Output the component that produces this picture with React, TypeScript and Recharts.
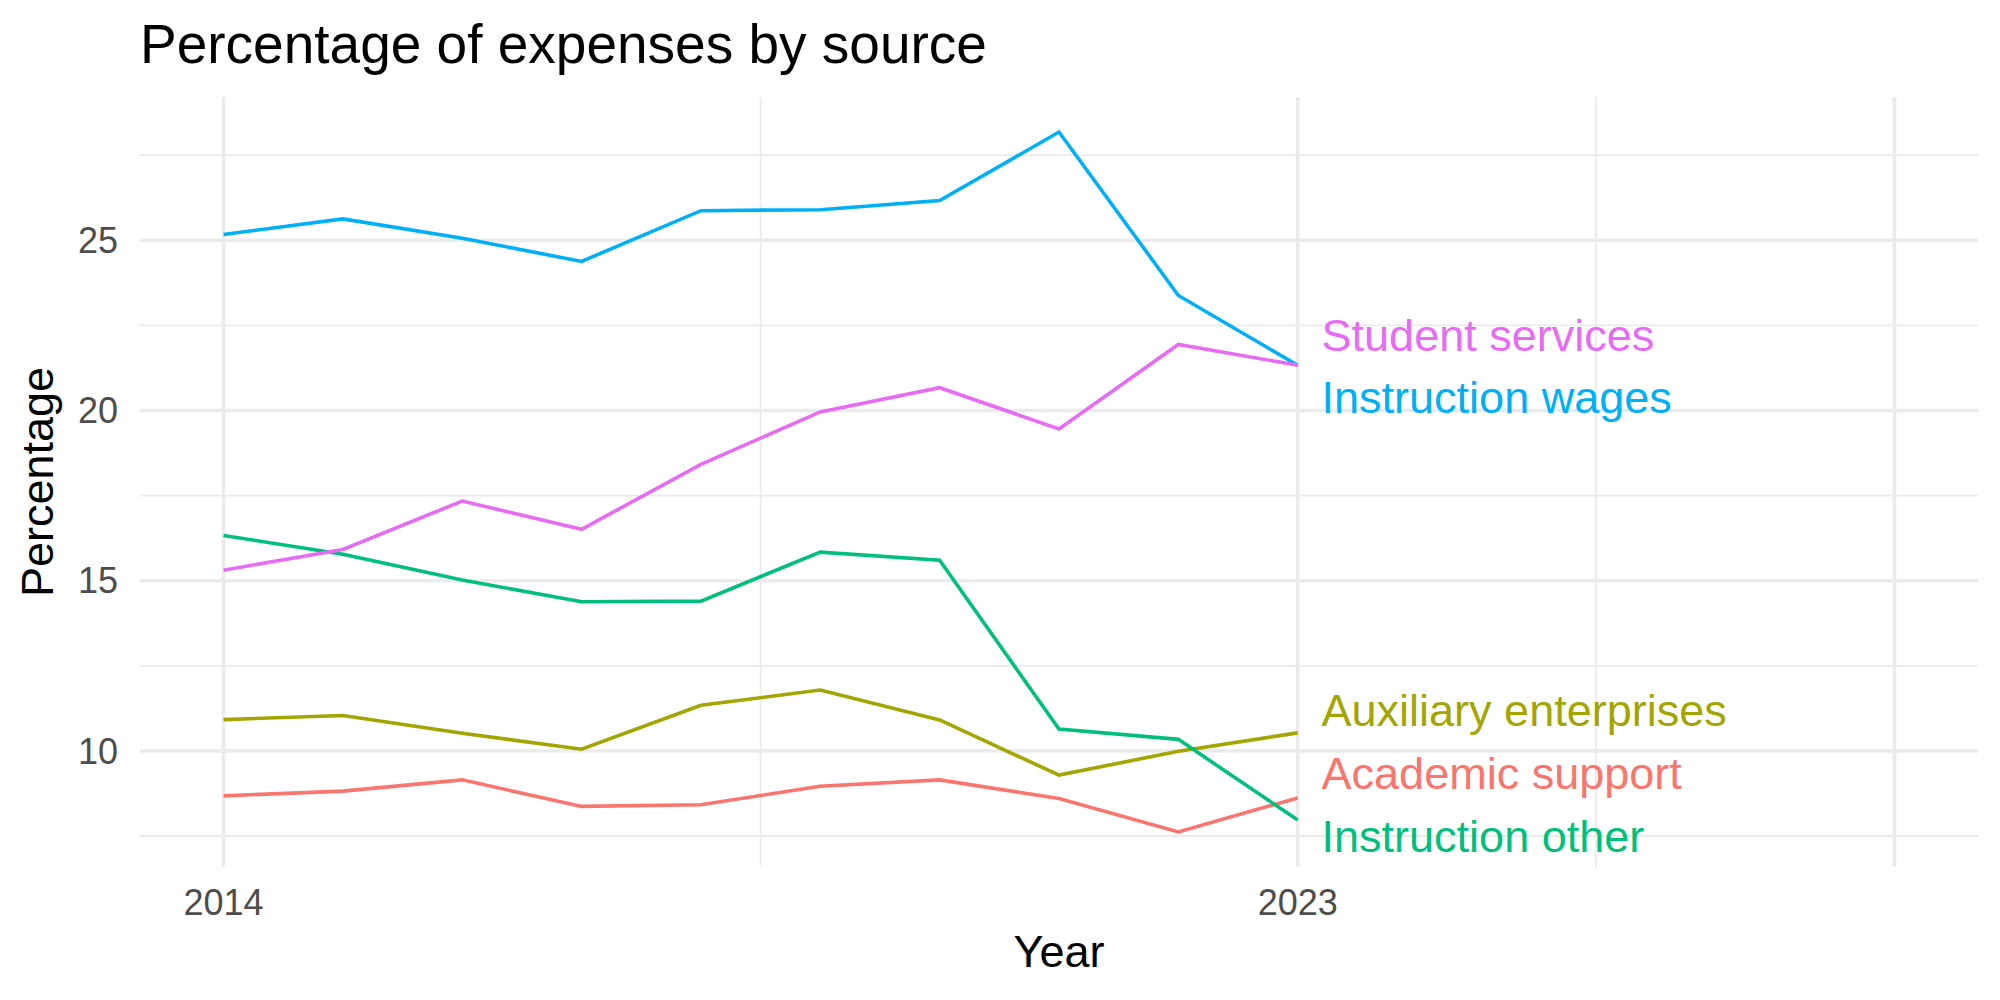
import React from 'react';
import {
  LineChart, Line, XAxis, YAxis, CartesianGrid, ReferenceDot,
} from 'recharts';

const years = [2014, 2015, 2016, 2017, 2018, 2019, 2020, 2021, 2022, 2023];

const academicSupport = [8.68, 8.82, 9.15, 8.37, 8.42, 8.96, 9.15, 8.6, 7.62, 8.62];
const auxiliaryEnterprises = [10.92, 11.04, 10.52, 10.05, 11.34, 11.79, 10.91, 9.29, 9.99, 10.53];
const instructionOther = [16.33, 15.78, 15.02, 14.38, 14.4, 15.84, 15.6, 10.64, 10.34, 7.97];
const instructionWages = [25.17, 25.63, 25.06, 24.38, 25.87, 25.9, 26.17, 28.18, 23.38, 21.33];
const studentServices = [15.31, 15.92, 17.34, 16.51, 18.42, 19.96, 20.67, 19.46, 21.94, 21.33];

// end-of-line labels, spread apart so they don't overlap
const labelX = 2023.2;
const labelY = [9.35, 11.2, 7.5, 20.39, 22.23];

const yTicks = [10, 15, 20, 25];
const yMinor = [7.5, 12.5, 17.5, 22.5, 27.5];
const xMajor = [2014, 2023, 2028];
const xMinor = [2018.5, 2025.5];
const xTicks = [2014, 2023];

const FONT = '"Liberation Sans", Arial, Helvetica, sans-serif';

const series = [
  { key: 'academic', name: 'Academic support', color: '#F8766D', values: academicSupport },
  { key: 'auxiliary', name: 'Auxiliary enterprises', color: '#A3A500', values: auxiliaryEnterprises },
  { key: 'other', name: 'Instruction other', color: '#00BF7D', values: instructionOther },
  { key: 'wages', name: 'Instruction wages', color: '#00B0F6', values: instructionWages },
  { key: 'student', name: 'Student services', color: '#E76BF3', values: studentServices },
];

const rows = years.map((year, i) => {
  const row: Record<string, number> = { year };
  series.forEach(s => { row[s.key] = s.values[i]; });
  return row;
});

const XTitle = ({ viewBox }: any) => {
  if (!viewBox) return null;
  return (
    <text x={viewBox.x + viewBox.width / 2} y={viewBox.y + 100} textAnchor="middle"
      fontSize={45} fill="#000" fontFamily={FONT}>Year</text>
  );
};

const YTitle = ({ viewBox }: any) => {
  if (!viewBox) return null;
  const x = viewBox.x + 53;
  const y = viewBox.y + viewBox.height / 2;
  return (
    <text x={x} y={y} transform={`rotate(-90, ${x}, ${y})`} textAnchor="middle"
      fontSize={45} fill="#000" fontFamily={FONT}>Percentage</text>
  );
};

export default function App() {
  return (
    <div style={{ position: 'absolute', left: 0, top: 0, width: 2000, height: 1000, background: '#fff' }}>
      <svg width={2000} height={90} style={{ position: 'absolute', left: 0, top: 0 }}>
        <text x={140} y={63} fontSize={55} fill="#000" fontFamily={FONT}>
          Percentage of expenses by source
        </text>
      </svg>
      <LineChart width={2000} height={1000} data={rows}
        margin={{ top: 97, right: 22, bottom: 0, left: 0 }}
        style={{ fontFamily: FONT }}>
        <CartesianGrid stroke="#EBEBEB" strokeWidth={1.8}
          horizontalValues={yMinor} verticalValues={xMinor} />
        <CartesianGrid stroke="#EBEBEB" strokeWidth={3.6}
          horizontalValues={yTicks} verticalValues={xMajor} />
        <XAxis dataKey="year" type="number" domain={[2013.3, 2028.7]} ticks={xTicks}
          allowDataOverflow axisLine={false} tickLine={false} tickSize={0} tickMargin={22}
          height={133} tick={{ fill: '#4D4D4D', fontSize: 36, fontFamily: FONT }}
          label={<XTitle />} />
        <YAxis type="number" domain={[6.59, 29.21]} ticks={yTicks} allowDataOverflow
          width={140} axisLine={false} tickLine={false} tickSize={0} tickMargin={22}
          tick={{ fill: '#4D4D4D', fontSize: 36, fontFamily: FONT }}
          label={<YTitle />} />
        {series.map(s => (
          <Line key={s.key} dataKey={s.key} stroke={s.color} strokeWidth={3.6}
            dot={false} activeDot={false} isAnimationActive={false} type="linear" />
        ))}
        {series.map((s, i) => (
          <ReferenceDot key={`lbl-${s.key}`} x={labelX} y={labelY[i]} r={0} ifOverflow="visible"
            shape={(p: any) => (
              <text x={p.cx} y={p.cy} dy={16} fill={s.color} fontSize={45} fontFamily={FONT}>
                {s.name}
              </text>
            )} />
        ))}
      </LineChart>
    </div>
  );
}
